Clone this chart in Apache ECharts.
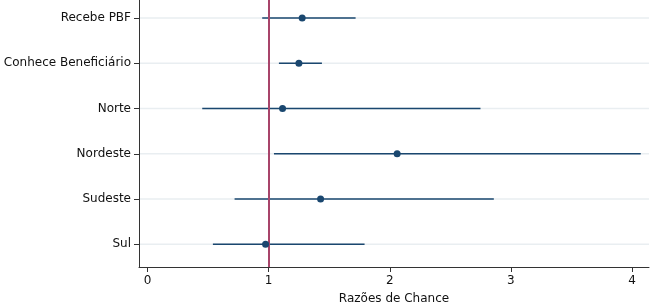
<!DOCTYPE html>
<html><head><meta charset="utf-8">
<script src="https://cdn.jsdelivr.net/npm/echarts@6/dist/echarts.min.js"></script>
<style>html,body{margin:0;padding:0;background:#fff}#c{width:650px;height:305px}</style>
</head><body><div id="c"></div>
<script>
const categories = ['Recebe PBF', 'Conhece Beneficiário', 'Norte', 'Nordeste', 'Sudeste', 'Sul'];
const oddsRatio = [1.277, 1.25, 1.115, 2.061, 1.429, 0.975];
const ciLow = [0.947, 1.085, 0.452, 1.044, 0.719, 0.540];
const ciHigh = [1.718, 1.44, 2.749, 4.072, 2.859, 1.792];
const xTicks = [0, 1, 2, 3, 4];
const refValue = 1;
const xTitle = 'Razões de Chance';

const font = 'DejaVu Sans';
const chart = echarts.init(document.getElementById('c'));
const navy = '#1a476f';
chart.setOption({
  animation: false,
  grid: {left: 139, right: 1, top: -4.6, bottom: 38, outerBoundsMode: 'none', containLabel: false},
  xAxis: {
    type: 'value', min: -0.07, max: 4.14,
    splitLine: {show: false},
    axisLine: {show: true, onZero: false, lineStyle: {color: '#333', width: 1}},
    axisTick: {show: true, length: 5, lineStyle: {color: '#333'}, customValues: xTicks},
    axisLabel: {customValues: xTicks, color: '#111', fontFamily: font, fontSize: 12, margin: 8, formatter: v => String(v)},
    name: xTitle, nameLocation: 'middle', nameGap: 26,
    nameTextStyle: {color: '#111', fontFamily: font, fontSize: 12}
  },
  yAxis: {
    type: 'category', data: categories, inverse: true,
    axisLine: {show: true, onZero: false, lineStyle: {color: '#333', width: 1}},
    axisTick: {show: true, alignWithLabel: true, length: 5, lineStyle: {color: '#333'}},
    axisLabel: {color: '#111', fontFamily: font, fontSize: 12, margin: 8},
    splitLine: {show: false}
  },
  series: [
    {
      type: 'custom', z: 1, silent: true,
      data: categories.map((c, i) => [i]),
      encode: {y: 0},
      renderItem: (params, api) => {
        const cs = params.coordSys;
        const y = api.coord([0, api.value(0)])[1];
        return {type: 'line', shape: {x1: cs.x + 1, y1: y, x2: cs.x + cs.width, y2: y},
          style: {stroke: '#e9eef1', lineWidth: 1.5}};
      }
    },
    {
      type: 'custom', z: 3, silent: true,
      data: categories.map((c, i) => [ciLow[i], ciHigh[i], i]),
      encode: {x: [0, 1], y: 2},
      renderItem: (params, api) => {
        const p1 = api.coord([api.value(0), api.value(2)]);
        const p2 = api.coord([api.value(1), api.value(2)]);
        return {type: 'line', shape: {x1: p1[0], y1: p1[1], x2: p2[0], y2: p2[1]},
          style: {stroke: navy, lineWidth: 1.5}};
      }
    },
    {
      type: 'scatter', z: 5, symbol: 'circle', symbolSize: 7,
      itemStyle: {color: navy, opacity: 1},
      data: categories.map((c, i) => [oddsRatio[i], i]),
      markLine: {
        silent: true, symbol: 'none', label: {show: false},
        lineStyle: {color: '#a8446a', width: 2, type: 'solid', opacity: 1},
        data: [{xAxis: refValue}]
      }
    }
  ]
});
</script></body></html>
